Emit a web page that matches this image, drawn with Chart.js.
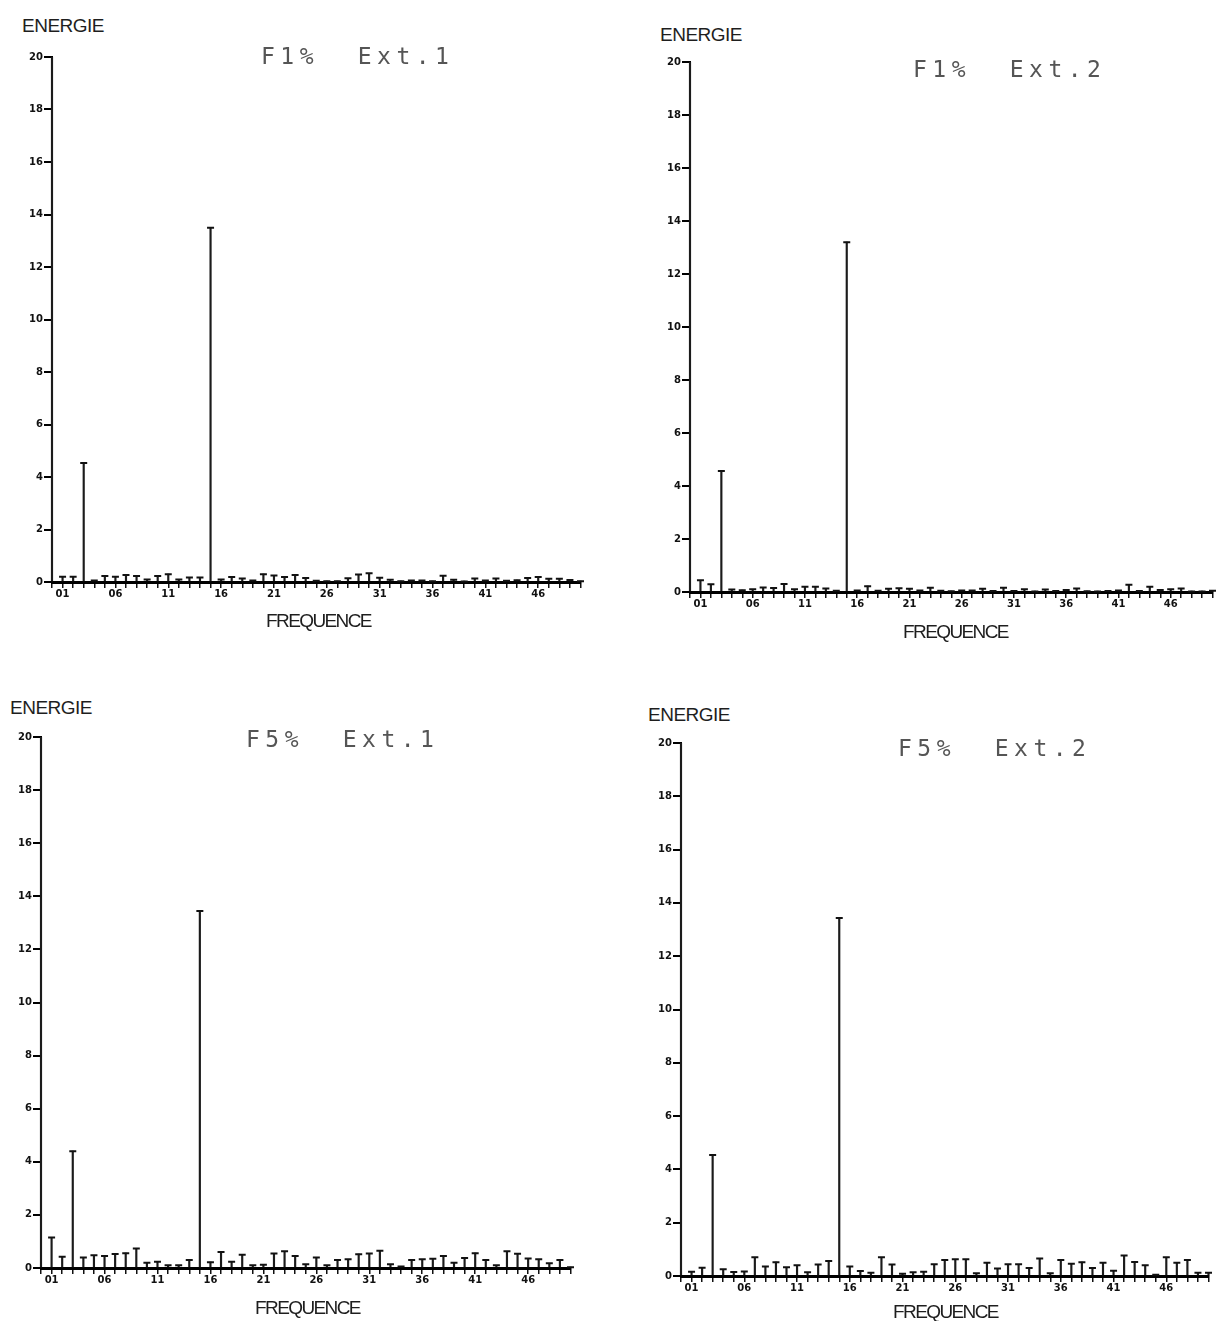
<!DOCTYPE html>
<html lang="fr">
<head>
<meta charset="UTF-8">
<title>Energie / Frequence</title>
<script src="https://cdn.jsdelivr.net/npm/chart.js"></script>
<style>
    body { margin: 0; background: #fff; }
    #page { position: relative; width: 1218px; height: 1321px; overflow: hidden; background: #fff; }
    #page canvas { position: absolute; }
    .energie, .freq {
        position: absolute;
        font-family: 'Liberation Sans', Arial, sans-serif;
        font-size: 19px;
        line-height: 1;
        color: #1e1e1e;
        white-space: pre;
    }
    .energie { letter-spacing: -0.5px; }
    .freq { letter-spacing: -1.6px; }
    .titre {
        position: absolute;
        font-family: 'DejaVu Sans Mono', monospace;
        font-size: 23px;
        line-height: 1;
        letter-spacing: 5.5px;
        color: #555;
        white-space: pre;
    }
</style>
</head>
<body>
<div id="page"></div>

<script>
    // frequences 00..50
    const freqLabels = ['00', '01', '02', '03', '04', '05', '06', '07', '08', '09',
        '10', '11', '12', '13', '14', '15', '16', '17', '18', '19',
        '20', '21', '22', '23', '24', '25', '26', '27', '28', '29',
        '30', '31', '32', '33', '34', '35', '36', '37', '38', '39',
        '40', '41', '42', '43', '44', '45', '46', '47', '48', '49', '50'];
    const shownLabels = ['01', '06', '11', '16', '21', '26', '31', '36', '41', '46'];

    const titles = ['F1%  Ext.1', 'F1%  Ext.2', 'F5%  Ext.1', 'F5%  Ext.2'];

    // energie par frequence (la composante 00 depasse l'echelle)
    const f1Ext1 = [21, 0.2, 0.2, 4.53, 0.06, 0.23, 0.2, 0.27, 0.23, 0.1,
        0.23, 0.3, 0.1, 0.17, 0.17, 13.5, 0.1, 0.19, 0.13, 0.06,
        0.3, 0.25, 0.19, 0.27, 0.15, 0.05, 0.03, 0.03, 0.14, 0.29,
        0.33, 0.16, 0.09, 0.03, 0.06, 0.06, 0.03, 0.24, 0.09, 0.02,
        0.13, 0.06, 0.13, 0.05, 0.07, 0.15, 0.19, 0.12, 0.12, 0.08, 0.03];
    const f1Ext2 = [21, 0.44, 0.29, 4.57, 0.09, 0.07, 0.1, 0.17, 0.15, 0.3,
        0.1, 0.2, 0.2, 0.13, 0.05, 13.2, 0.06, 0.22, 0.05, 0.12,
        0.14, 0.12, 0.06, 0.16, 0.05, 0.03, 0.06, 0.06, 0.12, 0.04,
        0.16, 0.04, 0.1, 0.02, 0.09, 0.04, 0.08, 0.13, 0.03, 0.02,
        0.04, 0.06, 0.27, 0.04, 0.2, 0.08, 0.1, 0.13, 0.02, 0.02, 0.05];
    const f5Ext1 = [21, 1.15, 0.42, 4.4, 0.4, 0.48, 0.45, 0.53, 0.56, 0.73,
        0.2, 0.24, 0.1, 0.1, 0.3, 13.45, 0.22, 0.6, 0.24, 0.5,
        0.1, 0.12, 0.55, 0.63, 0.45, 0.14, 0.4, 0.1, 0.3, 0.33,
        0.52, 0.55, 0.65, 0.14, 0.06, 0.3, 0.33, 0.35, 0.45, 0.2,
        0.38, 0.56, 0.3, 0.1, 0.63, 0.54, 0.36, 0.33, 0.18, 0.3, 0.03];
    const f5Ext2 = [21, 0.16, 0.31, 4.54, 0.25, 0.15, 0.17, 0.7, 0.36, 0.52,
        0.33, 0.4, 0.14, 0.43, 0.56, 13.43, 0.36, 0.19, 0.12, 0.7,
        0.43, 0.08, 0.14, 0.16, 0.44, 0.6, 0.63, 0.63, 0.1, 0.5,
        0.28, 0.44, 0.44, 0.3, 0.66, 0.1, 0.6, 0.46, 0.52, 0.3,
        0.5, 0.2, 0.77, 0.53, 0.4, 0.05, 0.7, 0.5, 0.6, 0.12, 0.12];

    const series = [f1Ext1, f1Ext2, f5Ext1, f5Ext2];

    // placement de chaque graphique sur la page
    const panels = [
        { x0: 52, xR: 582, yT: 57, yB: 582, en: [22, 16], ti: [261, 45], fr: [266, 611] },
        { x0: 690, xR: 1214, yT: 62, yB: 592, en: [660, 25], ti: [913, 58], fr: [903, 622] },
        { x0: 41, xR: 572, yT: 737, yB: 1268, en: [10, 698], ti: [246, 728], fr: [255, 1298] },
        { x0: 681, xR: 1210, yT: 743, yB: 1276, en: [648, 705], ti: [898, 737], fr: [893, 1302] }
    ];

    const page = document.getElementById('page');
    const tickFont = { family: 'DejaVu Sans', size: 10, weight: 'bold' };
    const clipBox = { left: 10, top: 0, right: 10, bottom: 10 };

    function addText(cls, txt, pos) {
        const d = document.createElement('div');
        d.className = cls;
        d.textContent = txt;
        d.style.left = pos[0] + 'px';
        d.style.top = pos[1] + 'px';
        page.appendChild(d);
    }

    panels.forEach(function (p, k) {
        const w = p.xR - p.x0 + 44;
        const h = p.yB - p.yT + 40;
        const cv = document.createElement('canvas');
        cv.width = w;
        cv.height = h;
        cv.style.width = w + 'px';
        cv.style.height = h + 'px';
        cv.style.left = (p.x0 - 40) + 'px';
        cv.style.top = (p.yT - 10) + 'px';
        page.appendChild(cv);

        addText('energie', 'ENERGIE', p.en);
        addText('titre', titles[k], p.ti);
        addText('freq', 'FREQUENCE', p.fr);

        new Chart(cv, {
            type: 'bar',
            data: {
                labels: freqLabels,
                datasets: [{
                    type: 'line',
                    data: series[k],
                    showLine: false,
                    pointStyle: 'line',
                    pointRadius: 3.5,
                    pointHoverRadius: 3.5,
                    pointBorderWidth: 2,
                    pointBorderColor: '#111',
                    borderColor: '#111',
                    clip: clipBox,
                    order: 1
                }, {
                    type: 'bar',
                    data: series[k],
                    backgroundColor: '#1b1b1b',
                    barThickness: 1.5,
                    clip: clipBox,
                    order: 2
                }]
            },
            options: {
                responsive: false,
                animation: false,
                events: [],
                layout: { padding: { left: 0, top: 10, right: 4, bottom: 0 } },
                plugins: { legend: { display: false }, tooltip: { enabled: false } },
                scales: {
                    x: {
                        offset: false,
                        grid: { offset: false, drawOnChartArea: false, tickLength: 6, lineWidth: 1.5, color: '#111' },
                        border: { width: 3, color: '#000' },
                        ticks: {
                            autoSkip: false,
                            maxRotation: 0,
                            padding: 0,
                            font: tickFont,
                            color: '#111',
                            callback: function (v, i) {
                                return shownLabels.includes(freqLabels[i]) ? freqLabels[i] : '';
                            }
                        },
                        afterFit: function (s) { s.height = 30; }
                    },
                    y: {
                        min: 0,
                        max: 20,
                        ticks: { stepSize: 2, padding: 1, font: tickFont, color: '#111' },
                        grid: { drawOnChartArea: false, tickLength: 8, lineWidth: 2, color: '#000' },
                        border: { width: 2, color: '#000' },
                        afterFit: function (s) { s.width = 40; }
                    }
                }
            }
        });
    });
</script>
</body>
</html>
